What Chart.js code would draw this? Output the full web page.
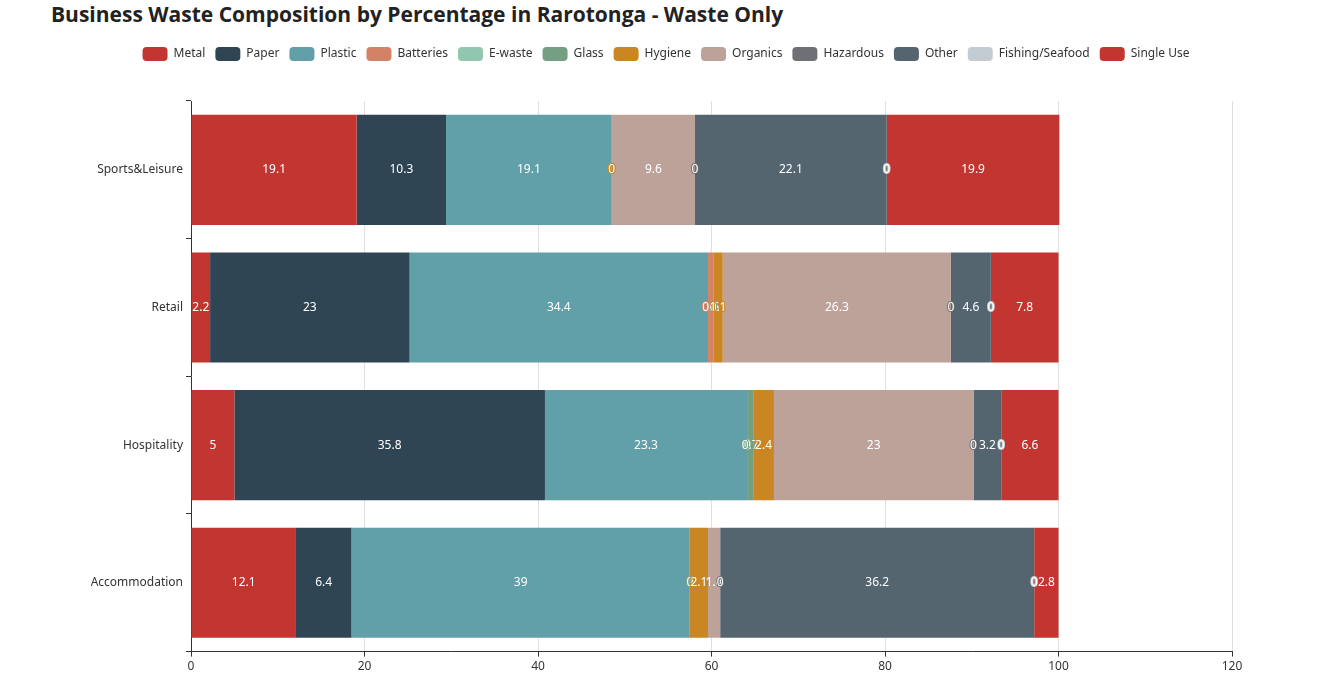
<!DOCTYPE html>
<html>
<head>
<meta charset="utf-8">
<script src="https://cdn.jsdelivr.net/npm/chart.js@4.4.1/dist/chart.umd.min.js"></script>
<style>
  html, body { margin: 0; padding: 0; background: #fff; }
  #wrap { position: relative; width: 1325px; height: 680px; }
  #title {
    position: absolute; left: 51px; top: 0px;
    font: bold 21px "Open Sans", "Noto Sans", sans-serif; color: #222;
    white-space: nowrap;
  }
  canvas { position: absolute; left: 0; top: 0; }
</style>
</head>
<body>
<div id="wrap">
  <div id="title">Business Waste Composition by Percentage in Rarotonga - Waste Only</div>
  <canvas id="wasteChart" width="1325" height="680"></canvas>
</div>
<script>
// Sectors (top to bottom)
const sectors = ['Sports&Leisure', 'Retail', 'Hospitality', 'Accommodation'];

// Percentage of each waste type per sector
const metal     = [19.1, 2.2, 5, 12.1];
const paper     = [10.3, 23, 35.8, 6.4];
const plastic   = [19.1, 34.4, 23.3, 39];
const batteries = [0, 0.6, 0, 0];
const eWaste    = [0, 0, 0, 0];
const glass     = [0, 0, 0.7, 0];
const hygiene   = [0, 1.1, 2.4, 2.1];
const organics  = [9.6, 26.3, 23, 1.4];
const hazardous = [0, 0, 0, 0];
const other     = [22.1, 4.6, 3.2, 36.2];
const fishing   = [0, 0, 0, 0];
const singleUse = [19.9, 7.8, 6.6, 2.8];

const xTicks = [0, 20, 40, 60, 80, 100, 120];

const seriesNames = ['Metal', 'Paper', 'Plastic', 'Batteries', 'E-waste', 'Glass', 'Hygiene',
                     'Organics', 'Hazardous', 'Other', 'Fishing/Seafood', 'Single Use'];
const seriesData = [metal, paper, plastic, batteries, eWaste, glass, hygiene,
                    organics, hazardous, other, fishing, singleUse];
const palette = ['#c23531', '#2f4554', '#61a0a8', '#d48265', '#91c7ae', '#749f83',
                 '#ca8622', '#bda29a', '#6e7074', '#546570', '#c4ccd3', '#c23531'];

const FONT = '"Noto Sans", "Open Sans", sans-serif';

// white labels with a coloured outline, drawn in the middle of each segment
const barLabels = {
    id: 'barLabels',
    afterDatasetsDraw(chart) {
        const ctx = chart.ctx;
        ctx.save();
        ctx.font = '12px ' + FONT;
        ctx.textAlign = 'center';
        ctx.textBaseline = 'middle';
        ctx.lineJoin = 'round';
        chart.data.datasets.forEach((ds, i) => {
            const meta = chart.getDatasetMeta(i);
            if (meta.hidden) return;
            meta.data.forEach((bar, j) => {
                const x = (bar.x + bar.base) / 2;
                const txt = String(ds.data[j]);
                ctx.lineWidth = 2;
                ctx.strokeStyle = ds.backgroundColor;
                ctx.strokeText(txt, x, bar.y);
                ctx.fillStyle = '#fff';
                ctx.fillText(txt, x, bar.y);
            });
        });
        ctx.restore();
    }
};

// extra space below the legend, and legend centred on the page
const legendTweak = {
    id: 'legendTweak',
    beforeInit(chart) {
        const fit = chart.legend.fit;
        chart.legend.fit = function () {
            fit.bind(chart.legend)();
            this.height += 30;
        };
    },
    afterLayout(chart) {
        chart.legend.left += 50;
        chart.legend.right += 50;
    }
};

new Chart(document.getElementById('wasteChart'), {
    type: 'bar',
    data: {
        labels: sectors,
        datasets: seriesNames.map((name, i) => ({
            label: name,
            data: seriesData[i],
            backgroundColor: palette[i],
            borderWidth: 0,
            categoryPercentage: 0.8,
            barPercentage: 1
        }))
    },
    options: {
        indexAxis: 'y',
        responsive: false,
        animation: false,
        layout: { padding: { top: 37, left: 0, right: 93, bottom: 3 } },
        plugins: {
            legend: {
                position: 'top',
                labels: {
                    boxWidth: 25, boxHeight: 14, padding: 10,
                    useBorderRadius: true, borderRadius: 4,
                    color: '#333', font: { family: FONT, size: 12 }
                }
            },
            tooltip: { enabled: false }
        },
        scales: {
            x: {
                stacked: true,
                min: 0, max: 120,
                afterBuildTicks: axis => { axis.ticks = xTicks.map(v => ({ value: v })); },
                grid: { color: '#e0e0e0', tickColor: '#333', tickLength: 5 },
                border: { color: '#333' },
                ticks: { color: '#333', padding: 3, font: { family: FONT, size: 12 } }
            },
            y: {
                stacked: true,
                afterFit: axis => { axis.width = 191; },
                grid: { offset: true, drawOnChartArea: false, color: '#333', tickLength: 5 },
                border: { color: '#333' },
                ticks: { color: '#333', padding: 3, font: { family: FONT, size: 12 } }
            }
        }
    },
    plugins: [barLabels, legendTweak]
});
</script>
</body>
</html>
